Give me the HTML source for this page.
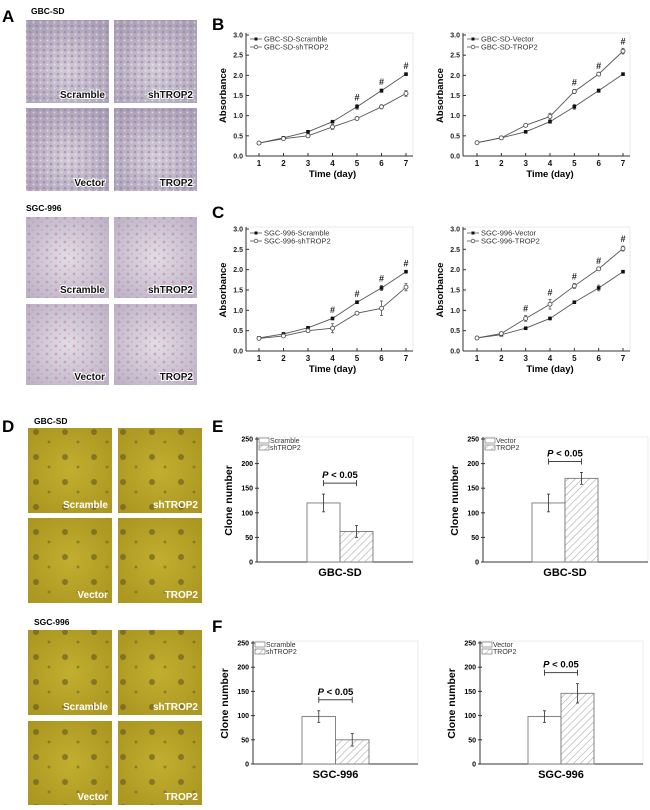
<!DOCTYPE html>
<html><head><meta charset="utf-8">
<style>
html,body{margin:0;padding:0;background:#fff;}
svg{display:block;font-family:"Liberation Sans",Arial,sans-serif;}
</style></head>
<body>
<svg id="fig" width="650" height="810" viewBox="0 0 650 810" xmlns="http://www.w3.org/2000/svg">
<defs>
<pattern id="hatch" patternUnits="userSpaceOnUse" width="5" height="5" patternTransform="rotate(45)">
<rect width="5" height="5" fill="#fff"/><line x1="0" y1="0" x2="0" y2="5" stroke="#aaa" stroke-width="1.2"/>
</pattern>
<radialGradient id="gA" cx="0.5" cy="0.6" r="0.7"><stop offset="0" stop-color="#d2ccd6"/><stop offset="1" stop-color="#a89fb3"/></radialGradient>
<radialGradient id="gS" cx="0.5" cy="0.5" r="0.7"><stop offset="0" stop-color="#e2dce4"/><stop offset="1" stop-color="#bab0c4"/></radialGradient>
<radialGradient id="gD" cx="0.5" cy="0.5" r="0.7"><stop offset="0" stop-color="#c2ae2e"/><stop offset="1" stop-color="#a99520"/></radialGradient>
<pattern id="dotsA" patternUnits="userSpaceOnUse" width="7" height="6"><circle cx="2" cy="2" r="1.3" fill="#9a6fb8" opacity="0.55"/><circle cx="5.5" cy="4.5" r="1" fill="#fff" opacity="0.5"/></pattern>
<pattern id="dotsS" patternUnits="userSpaceOnUse" width="9" height="8"><circle cx="2" cy="2" r="1.4" fill="#c07aa8" opacity="0.55"/><circle cx="6" cy="6" r="1" fill="#c38bb0" opacity="0.4"/></pattern>
<pattern id="dotsD" patternUnits="userSpaceOnUse" width="29" height="25"><circle cx="7" cy="7" r="3" fill="#5a4f20" opacity="0.55"/><circle cx="20" cy="17" r="1.5" fill="#5a4f20" opacity="0.45"/></pattern>
</defs>
<g id="photos"></g>
<g id="charts"></g>
</svg>
<script>
// ---- Line chart data (Absorbance by day) ----
const days = [1,2,3,4,5,6,7];
const yTicksLine = [0,0.5,1,1.5,2,2.5,3];
const bScramble = [0.32,0.45,0.60,0.85,1.22,1.62,2.03];
const bScrambleErr = [0.02,0.02,0.03,0.03,0.06,0.04,0.03];
const bShTrop2 = [0.32,0.43,0.50,0.72,0.93,1.22,1.55];
const bShTrop2Err = [0.02,0.02,0.04,0.06,0.04,0.05,0.07];
const bVector = [0.33,0.45,0.60,0.85,1.22,1.62,2.03];
const bVectorErr = [0.02,0.02,0.03,0.03,0.06,0.04,0.02];
const bTrop2 = [0.33,0.45,0.76,0.98,1.60,2.03,2.60];
const bTrop2Err = [0.02,0.02,0.03,0.08,0.05,0.03,0.07];
const cScramble = [0.32,0.42,0.57,0.80,1.20,1.55,1.95];
const cScrambleErr = [0.02,0.02,0.02,0.03,0.03,0.06,0.03];
const cShTrop2 = [0.31,0.37,0.50,0.56,0.93,1.05,1.57];
const cShTrop2Err = [0.02,0.03,0.04,0.11,0.04,0.18,0.09];
const cVector = [0.32,0.40,0.56,0.80,1.20,1.55,1.95];
const cVectorErr = [0.02,0.02,0.02,0.03,0.03,0.07,0.03];
const cTrop2 = [0.32,0.43,0.80,1.15,1.60,2.02,2.52];
const cTrop2Err = [0.02,0.02,0.07,0.12,0.06,0.02,0.06];
const bLeftSig = [5,6,7];
const bRightSig = [5,6,7];
const cLeftSig = [4,5,6,7];
const cRightSig = [3,4,5,6,7];
// ---- Bar chart data (Clone number) ----
const yTicksBar = [0,50,100,150,200,250];
const eLeftValues = [120,62];
const eLeftErr = [18,12];
const eRightValues = [120,170];
const eRightErr = [18,12];
const fLeftValues = [98,50];
const fLeftErr = [12,13];
const fRightValues = [98,146];
const fRightErr = [12,20];

const NS = "http://www.w3.org/2000/svg";
const charts = document.getElementById('charts');
const photos = document.getElementById('photos');
function mk(tag, attrs, parent, text){
  const e = document.createElementNS(NS, tag);
  for (const k in attrs) e.setAttribute(k, attrs[k]);
  if (text !== undefined) e.textContent = text;
  parent.appendChild(e);
  return e;
}

// ---- panel letters ----
const letters = [['A',2,22],['B',212,30],['C',212,218],['D',2,432],['E',212,432],['F',212,632]];
letters.forEach(l=>{
  const t = mk('text',{x:l[1],y:l[2],'font-size':17,'font-weight':'bold',fill:'#000'},charts,l[0]);
  
  
});

// ---- photos ----
function photoGroup(title, tx, ty, cols, rows, fill, dots, labels, key, dark){
  const g = mk('g',{},photos);
  
  
  const t = mk('text',{x:tx,y:ty,'font-size':8.5,'font-weight':'bold'},g,title);
  
  
  let i=0;
  rows.forEach(r=>{cols.forEach(c=>{
    const pg = mk('g',{},g);
    
    
    mk('rect',{x:c[0],y:r[0],width:c[1]-c[0],height:r[1]-r[0],fill:fill},pg);
    mk('rect',{x:c[0],y:r[0],width:c[1]-c[0],height:r[1]-r[0],fill:dots},pg);
    const attrs = dark
      ? {x:c[1]-4,y:r[1]-5,'font-size':10,'font-weight':'bold',fill:'#111','text-anchor':'end',stroke:'#fff','stroke-width':2,'paint-order':'stroke'}
      : {x:c[1]-4,y:r[1]-5,'font-size':10,'font-weight':'bold',fill:'#fff','text-anchor':'end'};
    const lt = mk('text',attrs,pg,labels[i]);
    
    
    i++;
  });});
}
const L4 = ['Scramble','shTROP2','Vector','TROP2'];
photoGroup('GBC-SD',31,14,[[26,109],[114,197]],[[20,103],[108,191]],'url(#gA)','url(#dotsA)',L4,'panel-a-gbc-sd',true);
photoGroup('SGC-996',26,211,[[26,109],[114,197]],[[217,298],[304,385]],'url(#gS)','url(#dotsS)',L4,'panel-a-sgc-996',true);
photoGroup('GBC-SD',34,424,[[28,112],[118,202]],[[428,513],[518,603]],'url(#gD)','url(#dotsD)',L4,'panel-d-gbc-sd',false);
photoGroup('SGC-996',34,625,[[28,112],[118,202]],[[630,715],[721,805]],'url(#gD)','url(#dotsD)',L4,'panel-d-sgc-996',false);

// ---- line charts ----
function lineChart(key, ax, ctrl, ctrlErr, trt, trtErr, sig, names){
  const g = mk('g',{},charts);
  
  
  const xs = d => ax.t1 + (d-1)*(ax.t7-ax.t1)/6;
  const ys = v => ax.y0 - v/3*(ax.y0-ax.y3);
  mk('rect',{x:ax.x0,y:ax.y3-2,width:ax.x1-ax.x0,height:ax.y0-ax.y3+2,fill:'none',stroke:'#e4e4e4','stroke-width':0.8},g);
  mk('line',{x1:ax.x0,y1:ax.y0,x2:ax.x1,y2:ax.y0,stroke:'#333','stroke-width':1},g);
  mk('line',{x1:ax.x0,y1:ax.y0,x2:ax.x0,y2:ax.y3-2,stroke:'#333','stroke-width':1},g);
  yTicksLine.forEach(v=>{
    mk('line',{x1:ax.x0,y1:ys(v),x2:ax.x0+3,y2:ys(v),stroke:'#333'},g);
    const t = mk('text',{x:ax.x0-3,y:ys(v)+2.5,'font-size':7,'font-weight':'bold','text-anchor':'end',fill:'#222'},g,v.toFixed(1));
    
    
  });
  days.forEach(d=>{
    mk('line',{x1:xs(d),y1:ax.y0,x2:xs(d),y2:ax.y0-3,stroke:'#333'},g);
    const t = mk('text',{x:xs(d),y:ax.y0+10,'font-size':8,'font-weight':'bold','text-anchor':'middle',fill:'#111'},g,String(d));
    
    
  });
  const xt = mk('text',{x:(ax.t1+ax.t7)/2,y:ax.y0+21,'font-size':9.5,'font-weight':'bold','text-anchor':'middle'},g,'Time (day)');
  
  
  const yx = ax.x0-20, yy=(ax.y0+ax.y3)/2;
  const yt = mk('text',{x:yx,y:yy,'font-size':9.5,'font-weight':'bold','text-anchor':'middle',transform:`rotate(-90 ${yx} ${yy})`},g,'Absorbance');
  
  
  [[ctrl,ctrlErr,true,names[0]],[trt,trtErr,false,names[1]]].forEach(([vals,errs,filled,nm])=>{
    const sg = mk('g',{},g);
    
    
    mk('polyline',{points:vals.map((v,i)=>xs(days[i])+','+ys(v)).join(' '),fill:'none',stroke:'#555','stroke-width':0.9},sg);
    vals.forEach((v,i)=>{
      const x=xs(days[i]);
      mk('line',{x1:x,y1:ys(v+errs[i]),x2:x,y2:ys(v-errs[i]),stroke:'#555','stroke-width':0.8},sg);
      mk('line',{x1:x-1.5,y1:ys(v+errs[i]),x2:x+1.5,y2:ys(v+errs[i]),stroke:'#555','stroke-width':0.8},sg);
      mk('line',{x1:x-1.5,y1:ys(v-errs[i]),x2:x+1.5,y2:ys(v-errs[i]),stroke:'#555','stroke-width':0.8},sg);
      if(filled){ const p=mk('rect',{x:x-1.8,y:ys(v)-1.8,width:3.6,height:3.6,fill:'#111'},sg);
          }
      else { const p=mk('circle',{cx:x,cy:ys(v),r:2,fill:'#fff',stroke:'#555','stroke-width':0.9},sg);
          }
    });
  });
  sig.forEach(d=>{
    const i = days.indexOf(d);
    const top = Math.max(ctrl[i]+ctrlErr[i], trt[i]+trtErr[i]);
    const t = mk('text',{x:xs(d),y:ys(top)-4,'font-size':9,'font-weight':'bold','text-anchor':'middle',fill:'#222'},g,'#');
    
    
  });
  const lg = mk('g',{},g);
  
  
  const lx = ax.x0+4, ly = ax.y3+4;
  [[names[0],true],[names[1],false]].forEach(([nm,f],k)=>{
    const y = ly+k*8;
    mk('line',{x1:lx,y1:y,x2:lx+12,y2:y,stroke:'#555','stroke-width':0.8},lg);
    if(f) mk('rect',{x:lx+4.5,y:y-1.5,width:3,height:3,fill:'#111'},lg);
    else mk('circle',{cx:lx+6,cy:y,r:1.8,fill:'#fff',stroke:'#555','stroke-width':0.8},lg);
    const t = mk('text',{x:lx+14,y:y+2.6,'font-size':7.5,fill:'#333'},lg,nm);
    
    
  });
}
const axBL = {x0:246,x1:413,t1:259,t7:406,y0:156,y3:35};
const axBR = {x0:463,x1:630,t1:477,t7:623,y0:156,y3:35};
const axCL = {x0:246,x1:413,t1:259,t7:406,y0:351,y3:229};
const axCR = {x0:463,x1:630,t1:477,t7:623,y0:351,y3:229};
lineChart('chart-b-left',axBL,bScramble,bScrambleErr,bShTrop2,bShTrop2Err,bLeftSig,['GBC-SD-Scramble','GBC-SD-shTROP2']);
lineChart('chart-b-right',axBR,bVector,bVectorErr,bTrop2,bTrop2Err,bRightSig,['GBC-SD-Vector','GBC-SD-TROP2']);
lineChart('chart-c-left',axCL,cScramble,cScrambleErr,cShTrop2,cShTrop2Err,cLeftSig,['SGC-996-Scramble','SGC-996-shTROP2']);
lineChart('chart-c-right',axCR,cVector,cVectorErr,cTrop2,cTrop2Err,cRightSig,['SGC-996-Vector','SGC-996-TROP2']);

// ---- bar charts ----
function barChart(key, ax, vals, errs, names, cat){
  const g = mk('g',{},charts);
  
  
  const ys = v => ax.y0 - v/250*(ax.y0-ax.ytop);
  mk('rect',{x:ax.x0,y:ax.ytop-2,width:ax.x1-ax.x0,height:ax.y0-ax.ytop+2,fill:'none',stroke:'#e8e8e8','stroke-width':0.8},g);
  mk('line',{x1:ax.x0,y1:ax.y0,x2:ax.x1,y2:ax.y0,stroke:'#333'},g);
  mk('line',{x1:ax.x0,y1:ax.y0,x2:ax.x0,y2:ax.ytop-2,stroke:'#333'},g);
  yTicksBar.forEach(v=>{
    mk('line',{x1:ax.x0-2,y1:ys(v),x2:ax.x0+2,y2:ys(v),stroke:'#333'},g);
    const t = mk('text',{x:ax.x0-4,y:ys(v)+2.5,'font-size':7,'font-weight':'bold','text-anchor':'end'},g,String(v));
    
    
  });
  const yx = ax.x0-25, yy=(ax.y0+ax.ytop)/2;
  const yt = mk('text',{x:yx,y:yy,'font-size':10.5,'font-weight':'bold','text-anchor':'middle',transform:`rotate(-90 ${yx} ${yy})`},g,'Clone number');
  
  
  const xt = mk('text',{x:ax.bx+ax.bw,y:ax.y0+14,'font-size':11,'font-weight':'bold','text-anchor':'middle'},g,cat);
  
  
  vals.forEach((v,i)=>{
    const x = ax.bx + i*ax.bw;
    const b = mk('rect',{x:x,y:ys(v),width:ax.bw,height:ax.y0-ys(v),fill:i?'url(#hatch)':'#fff',stroke:'#777','stroke-width':0.9},g);
    
    
    const cx = x+ax.bw/2;
    mk('line',{x1:cx,y1:ys(v+errs[i]),x2:cx,y2:ys(v-errs[i]),stroke:'#444','stroke-width':0.9},g);
    mk('line',{x1:cx-1.5,y1:ys(v+errs[i]),x2:cx+1.5,y2:ys(v+errs[i]),stroke:'#444','stroke-width':0.9},g);
    mk('line',{x1:cx-1.5,y1:ys(v-errs[i]),x2:cx+1.5,y2:ys(v-errs[i]),stroke:'#444','stroke-width':0.9},g);
  });
  const top = Math.max(vals[0]+errs[0], vals[1]+errs[1]);
  const by = ys(top)-11;
  const c0 = ax.bx+ax.bw/2, c1 = ax.bx+ax.bw*1.5;
  const sg = mk('g',{},g);
  
  
  mk('line',{x1:c0,y1:by,x2:c1,y2:by,stroke:'#444','stroke-width':1},sg);
  mk('line',{x1:c0,y1:by-3,x2:c0,y2:by+3,stroke:'#444','stroke-width':1},sg);
  mk('line',{x1:c1,y1:by-3,x2:c1,y2:by+3,stroke:'#444','stroke-width':1},sg);
  const pt = mk('text',{x:(c0+c1)/2,y:by-5,'font-size':9.5,'font-weight':'bold','text-anchor':'middle'},sg);
  mk('tspan',{'font-style':'italic'},pt,'P');
  mk('tspan',{},pt,' < 0.05');
  const lg = mk('g',{},g);
  
  
  names.forEach((nm,k)=>{
    const y = ax.ytop+1+k*7;
    mk('rect',{x:ax.x0+2,y:y-2,width:10,height:5,fill:k?'url(#hatch)':'#fff',stroke:'#777','stroke-width':0.7},lg);
    const t = mk('text',{x:ax.x0+13,y:y+3,'font-size':7,fill:'#333'},lg,nm);
    
    
  });
}
barChart('chart-e-left',{x0:257,x1:413,y0:562,ytop:439,bx:307,bw:33},eLeftValues,eLeftErr,['Scramble','shTROP2'],'GBC-SD');
barChart('chart-e-right',{x0:483,x1:648,y0:562,ytop:439,bx:532,bw:33},eRightValues,eRightErr,['Vector','TROP2'],'GBC-SD');
barChart('chart-f-left',{x0:253,x1:418,y0:764,ytop:643,bx:302,bw:33.5},fLeftValues,fLeftErr,['Scramble','shTROP2'],'SGC-996');
barChart('chart-f-right',{x0:480,x1:643,y0:764,ytop:643,bx:528,bw:33},fRightValues,fRightErr,['Vector','TROP2'],'SGC-996');
</script>
</body></html>
